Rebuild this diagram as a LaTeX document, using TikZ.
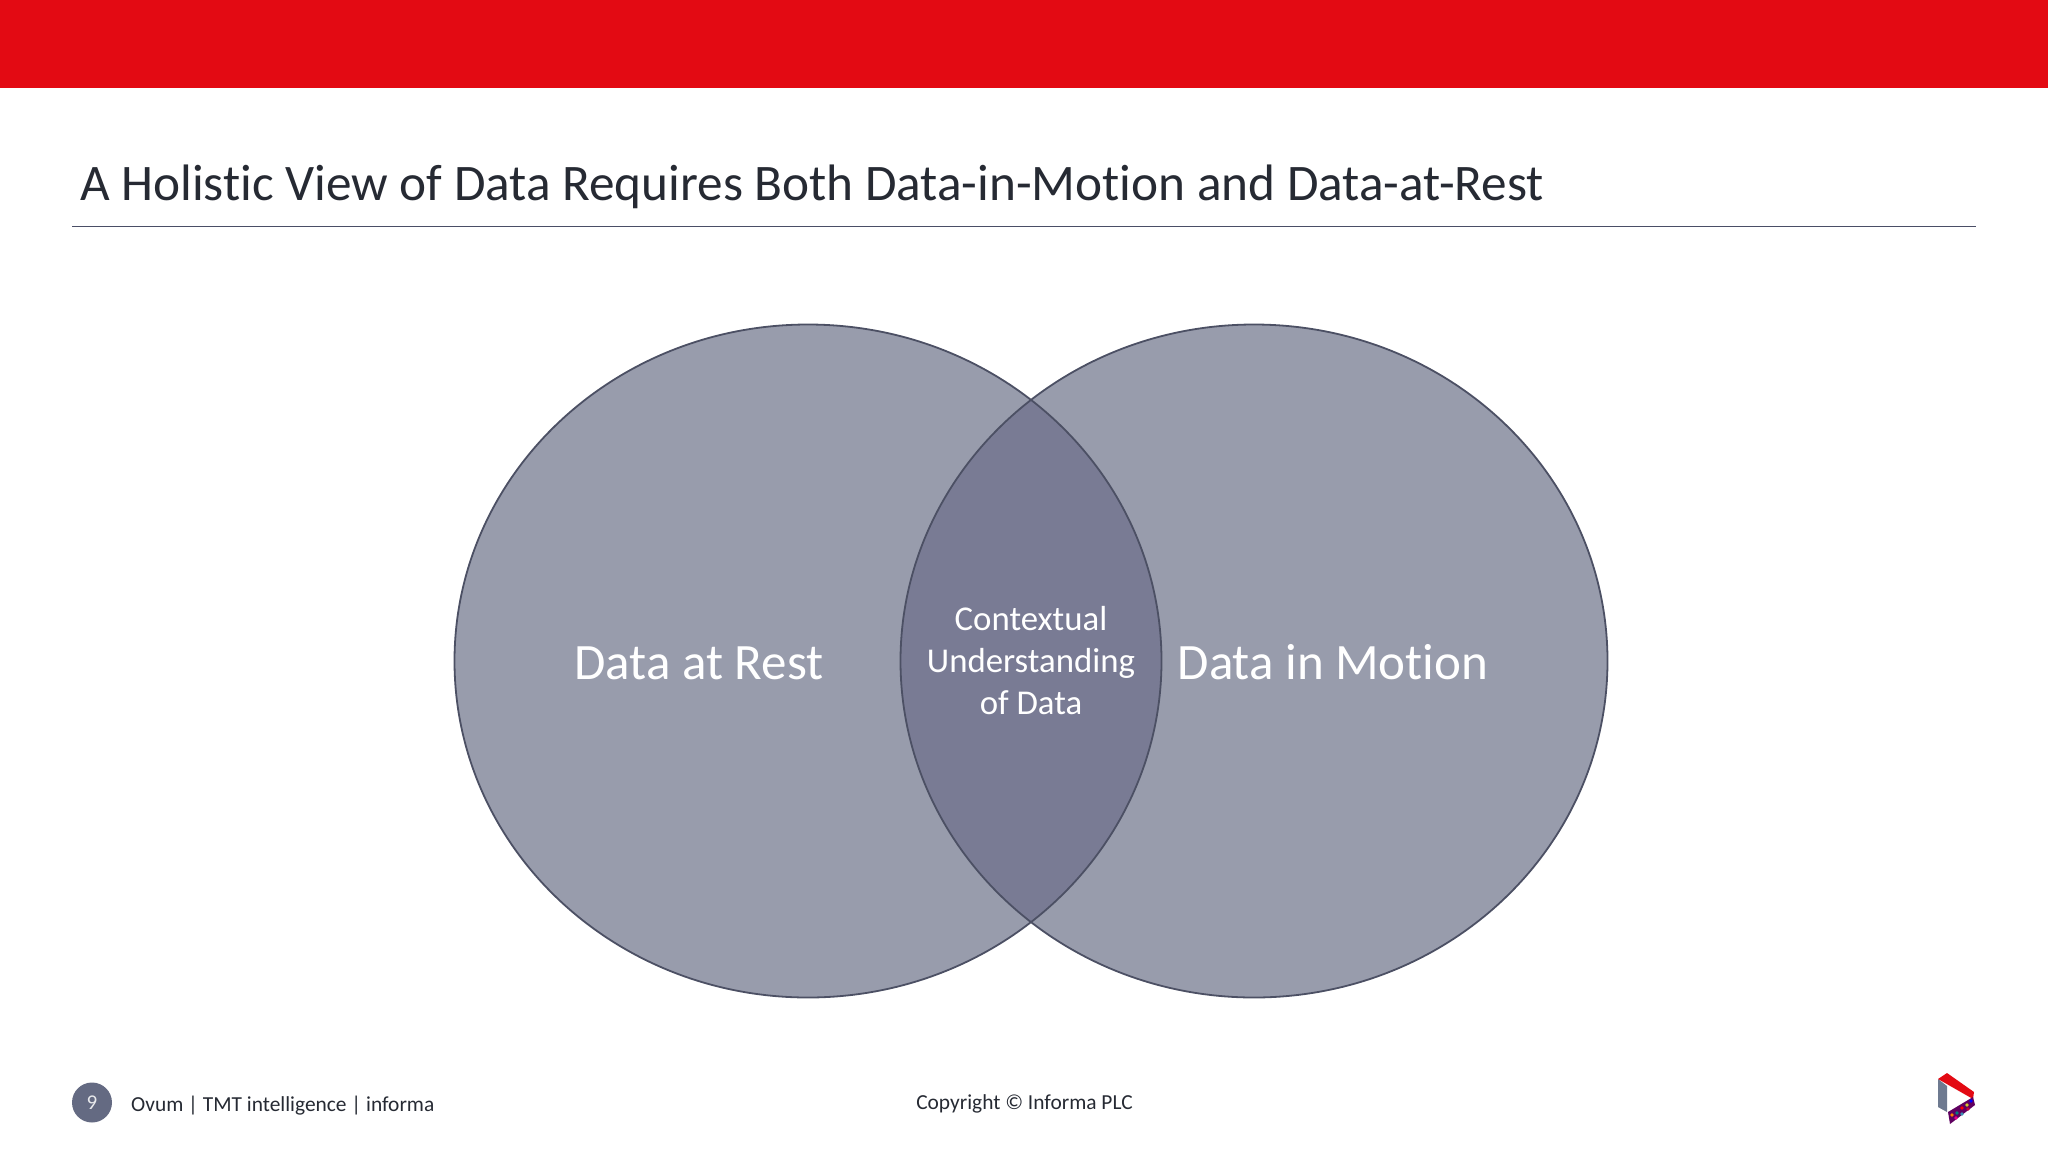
\documentclass[tikz,border=0pt]{standalone}
\usepackage{fontspec}
\setmainfont[Ligatures=NoCommon]{Carlito}
\usetikzlibrary{shapes.geometric}
\definecolor{topred}{HTML}{E30A13}
\definecolor{venn}{HTML}{989CAC}
\definecolor{overlap}{HTML}{797B94}
\definecolor{edge}{HTML}{4C5064}
\definecolor{ink}{HTML}{262A33}
\definecolor{rulec}{HTML}{4A4E66}
\definecolor{badge}{HTML}{646A82}
\definecolor{logogrey}{HTML}{6E7A90}
\tikzset{
  x=1pt,y=-1pt,
  vennshape/.style={ellipse,minimum width=707pt,minimum height=673pt,inner sep=0pt,fill=venn},
  venntext/.style={text=white,align=center,inner sep=0pt},
  foot/.style={text=ink,font=\fontsize{21.4}{25}\selectfont,inner sep=0pt},
}
\begin{document}
\begin{tikzpicture}
\useasboundingbox (0,0) rectangle (2048,1152);
\fill[white] (0,0) rectangle (2048,1152);
\fill[topred] (0,0) rectangle (2048,88);
\node[anchor=west,text=ink,inner sep=0pt,font=\fontsize{51.25}{60}\selectfont] (title) at (80,186.5) {A Holistic View of Data Requires Both Data-in-Motion and Data-at-Rest};
\coordinate (ruleL) at (72,226.5);
\coordinate (ruleR) at (1976,226.5);
\draw[rulec,line width=0.9pt] (ruleL) -- (ruleR);
\node[vennshape] (rest) at (808,661) {};
\node[vennshape] (motion) at (1254,661) {};
\begin{scope}
\clip (808,661) ellipse [x radius=353.5,y radius=336.5];
\fill[overlap] (1254,661) ellipse [x radius=353.5,y radius=336.5];
\end{scope}
\draw[edge,line width=1.8pt] (808,661) ellipse [x radius=353.5,y radius=336.5];
\draw[edge,line width=1.8pt] (1254,661) ellipse [x radius=353.5,y radius=336.5];
\node[venntext,font=\fontsize{51}{60}\selectfont] (restlabel) at (699,663) {Data at Rest};
\node[venntext,font=\fontsize{51}{60}\selectfont] (motionlabel) at (1333,662.5) {Data in Motion};
\node[venntext,font=\fontsize{34.8}{42}\selectfont] (ctx) at (1031,661) {Contextual\\Understanding\\of Data};
\node[circle,fill=badge,minimum size=40pt,inner sep=0pt,text=white!85!badge,font=\fontsize{21}{25}\selectfont] (page) at (92,1102.5) {9};
\node[foot,anchor=west] (org) at (131,1105.5) {Ovum | TMT intelligence | informa};
\node[foot] (copy) at (1024.5,1104) {Copyright © Informa PLC};
% logo
\fill[logogrey] (1938,1079) -- (1947,1086) -- (1947,1112) -- (1938,1107) -- cycle;
\fill[topred] (1938,1079) -- (1947,1073) -- (1974,1092) -- (1973,1099) -- cycle;
\fill[violet!75!black] (1973,1097) -- (1975,1105) -- (1950,1124) -- (1948,1112) -- cycle;
\foreach \a/\b/\c in {1952/1115/orange,1957/1113/teal,1962/1108/red,1967/1105/yellow!80!black,1971/1101/blue,1956/1118/magenta,1962/1114/cyan!70!black,1968/1109/purple}
  \fill[\c] (\a,\b) circle [radius=1.8];
\end{tikzpicture}
\end{document}
